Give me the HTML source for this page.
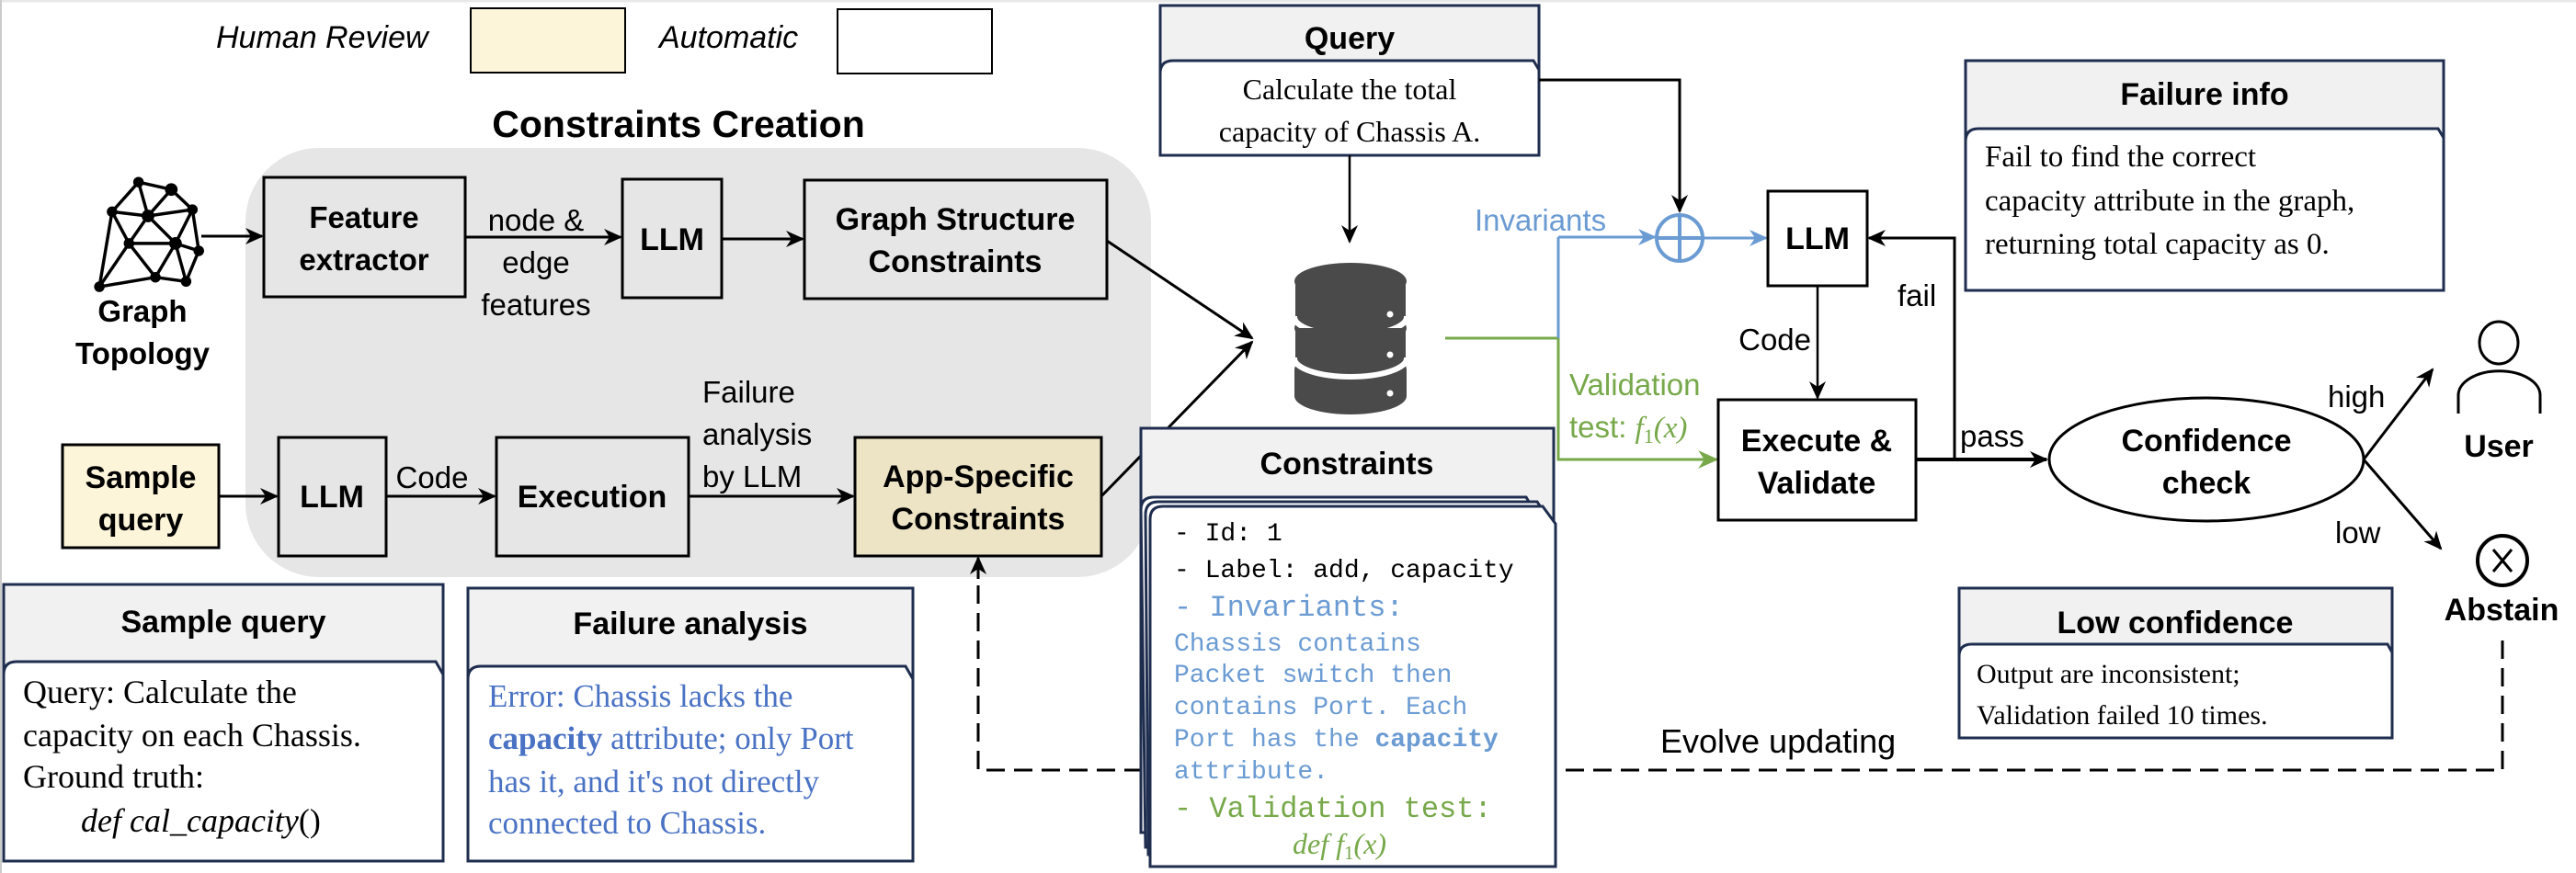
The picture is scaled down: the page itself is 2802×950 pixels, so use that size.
<!DOCTYPE html>
<html><head><meta charset="utf-8"><style>
html,body{margin:0;padding:0;background:#fff;}
svg{display:block;}
.s{font-family:"Liberation Sans",sans-serif;}
.b{font-family:"Liberation Sans",sans-serif;font-weight:bold;}
.r{font-family:"Liberation Serif",serif;}
.m{font-family:"Liberation Mono",monospace;}
</style></head><body>
<svg width="2802" height="950" viewBox="0 0 2802 950" xmlns="http://www.w3.org/2000/svg">
<defs>
<marker id="a" viewBox="0 0 20 20" refX="18" refY="10" markerWidth="20" markerHeight="20" markerUnits="userSpaceOnUse" orient="auto"><path d="M0,1 L20,10 L0,19 L6,10 Z" fill="#000"/></marker>
<marker id="ab" viewBox="0 0 20 20" refX="18" refY="10" markerWidth="20" markerHeight="20" markerUnits="userSpaceOnUse" orient="auto"><path d="M0,1 L20,10 L0,19 L6,10 Z" fill="#6b9bd3"/></marker>
<marker id="ag" viewBox="0 0 20 20" refX="18" refY="10" markerWidth="22" markerHeight="22" markerUnits="userSpaceOnUse" orient="auto"><path d="M0,1 L20,10 L0,19 L6,10 Z" fill="#77a84a"/></marker>
</defs>
<rect width="2802" height="950" fill="#fff"/>
<line x1="0" y1="1" x2="2802" y2="1" stroke="#e8e8e8" stroke-width="3"/>
<line x1="1" y1="0" x2="1" y2="950" stroke="#ccc" stroke-width="2"/>

<!-- legend -->
<text x="235" y="52" class="s" font-style="italic" font-size="34">Human Review</text>
<rect x="512" y="9" width="168" height="70" fill="#fdf5d9" stroke="#000" stroke-width="2"/>
<text x="717" y="52" class="s" font-style="italic" font-size="34">Automatic</text>
<rect x="911" y="10" width="168" height="70" fill="#fff" stroke="#000" stroke-width="2"/>

<!-- constraints creation -->
<text x="738" y="149" class="b" font-size="41" text-anchor="middle">Constraints Creation</text>
<rect x="267" y="161" width="985" height="467" rx="80" fill="#e6e6e6"/>

<!-- graph icon -->
<g transform="translate(161,258) scale(1.15) translate(-161,-258)">
<g stroke="#000" stroke-width="3" fill="none">
<path d="M152,206 L183,213 L203,232 L209,271 L197,300 L168,296 L115,305 L127,234 Z"/>
<path d="M127,234 L161,238 L183,213 M161,238 L152,206 M161,238 L203,232 M161,238 L143,264 L115,305 M127,234 L143,264 M161,238 L187,264 L209,271 M187,264 L203,232 M143,264 L187,264 M143,264 L168,296 L187,264 L197,300 M115,305 L143,264"/>
</g>
<g fill="#000"><circle cx="152" cy="206" r="5"/><circle cx="183" cy="213" r="6"/><circle cx="127" cy="234" r="5"/><circle cx="161" cy="238" r="6"/><circle cx="203" cy="232" r="5"/><circle cx="143" cy="264" r="5"/><circle cx="187" cy="264" r="6"/><circle cx="209" cy="271" r="5"/><circle cx="168" cy="296" r="5"/><circle cx="197" cy="300" r="5"/><circle cx="115" cy="305" r="5"/></g>
</g>
<text x="155" y="350" class="b" font-size="33" text-anchor="middle">Graph</text>
<text x="155" y="396" class="b" font-size="33" text-anchor="middle">Topology</text>
<line x1="219" y1="257" x2="285" y2="257" stroke="#000" stroke-width="3" marker-end="url(#a)"/>

<rect x="287" y="193" width="219" height="130" fill="#e6e6e6" stroke="#000" stroke-width="3"/>
<text x="396" y="248" class="b" font-size="33" text-anchor="middle">Feature</text>
<text x="396" y="294" class="b" font-size="33" text-anchor="middle">extractor</text>
<line x1="506" y1="258" x2="675" y2="258" stroke="#000" stroke-width="3" marker-end="url(#a)"/>
<text x="583" y="251" class="s" font-size="33" text-anchor="middle">node &amp;</text>
<text x="583" y="297" class="s" font-size="33" text-anchor="middle">edge</text>
<text x="583" y="343" class="s" font-size="33" text-anchor="middle">features</text>
<rect x="677" y="195" width="108" height="129" fill="#e6e6e6" stroke="#000" stroke-width="3"/>
<text x="731" y="272" class="b" font-size="34" text-anchor="middle">LLM</text>
<line x1="785" y1="260" x2="873" y2="260" stroke="#000" stroke-width="3" marker-end="url(#a)"/>
<rect x="875" y="196" width="329" height="129" fill="#e6e6e6" stroke="#000" stroke-width="3"/>
<text x="1039" y="250" class="b" font-size="34" text-anchor="middle">Graph Structure</text>
<text x="1039" y="296" class="b" font-size="34" text-anchor="middle">Constraints</text>

<rect x="68" y="484" width="170" height="112" fill="#fdf5d9" stroke="#000" stroke-width="3"/>
<text x="153" y="531" class="b" font-size="34" text-anchor="middle">Sample</text>
<text x="153" y="577" class="b" font-size="34" text-anchor="middle">query</text>
<line x1="238" y1="540" x2="301" y2="540" stroke="#000" stroke-width="3" marker-end="url(#a)"/>
<rect x="303" y="476" width="117" height="129" fill="#e6e6e6" stroke="#000" stroke-width="3"/>
<text x="361" y="552" class="b" font-size="34" text-anchor="middle">LLM</text>
<line x1="420" y1="540" x2="538" y2="540" stroke="#000" stroke-width="3" marker-end="url(#a)"/>
<text x="470" y="531" class="s" font-size="33" text-anchor="middle">Code</text>
<rect x="540" y="476" width="209" height="129" fill="#e6e6e6" stroke="#000" stroke-width="3"/>
<text x="644" y="552" class="b" font-size="34" text-anchor="middle">Execution</text>
<text x="764" y="438" class="s" font-size="33">Failure</text>
<text x="764" y="484" class="s" font-size="33">analysis</text>
<text x="764" y="530" class="s" font-size="33">by LLM</text>
<line x1="749" y1="540" x2="928" y2="540" stroke="#000" stroke-width="3" marker-end="url(#a)"/>
<rect x="930" y="476" width="268" height="129" fill="#ede3c5" stroke="#000" stroke-width="3"/>
<text x="1064" y="530" class="b" font-size="34" text-anchor="middle">App-Specific</text>
<text x="1064" y="576" class="b" font-size="34" text-anchor="middle">Constraints</text>

<!-- to DB -->
<line x1="1204" y1="262" x2="1362" y2="368" stroke="#000" stroke-width="3" marker-end="url(#a)"/>
<line x1="1198" y1="540" x2="1362" y2="372" stroke="#000" stroke-width="3" marker-end="url(#a)"/>

<!-- DB -->
<g>
<path d="M1408,402 L1530,402 L1530,431 A61,20 0 0,1 1408,431 Z" fill="#4a4a4a"/>
<ellipse cx="1469" cy="402" rx="61" ry="20" fill="#4a4a4a"/>
<path d="M1408,357 L1530,357 L1530,390 A61,20 0 0,1 1408,390 Z" fill="#4a4a4a" stroke="#fff" stroke-width="6"/>
<ellipse cx="1469" cy="357" rx="61" ry="20" fill="#4a4a4a"/>
<path d="M1408,306 L1530,306 L1530,345 A61,20 0 0,1 1408,345 Z" fill="#4a4a4a" stroke="#fff" stroke-width="6"/>
<ellipse cx="1469" cy="306" rx="61" ry="20" fill="#4a4a4a"/>
<rect x="1409" y="306" width="120" height="38" fill="#4a4a4a"/>
<rect x="1409" y="357" width="120" height="32" fill="#4a4a4a"/>
<circle cx="1512" cy="342" r="3.5" fill="#fff"/><circle cx="1512" cy="386" r="3.5" fill="#fff"/><circle cx="1512" cy="428" r="3.5" fill="#fff"/>
</g>

<!-- Query card -->
<rect x="1262" y="6" width="412" height="163" fill="#f1f1f1" stroke="#1f2d4f" stroke-width="3"/>
<path d="M1262,80 Q1262,66 1276,66 L1668,66 L1674,76 L1674,169 L1262,169 Z" fill="#fff" stroke="#1f2d4f" stroke-width="3"/>
<text x="1468" y="53" class="b" font-size="34" text-anchor="middle">Query</text>
<text x="1468" y="108" class="r" font-size="32" text-anchor="middle">Calculate the total</text>
<text x="1468" y="154" class="r" font-size="32" text-anchor="middle">capacity of Chassis A.</text>
<line x1="1468" y1="169" x2="1468" y2="263" stroke="#000" stroke-width="2.5" marker-end="url(#a)"/>
<polyline points="1674,87 1827,87 1827,230" fill="none" stroke="#000" stroke-width="3" marker-end="url(#a)"/>

<!-- invariants / validation lines -->
<line x1="1572" y1="368" x2="1695" y2="368" stroke="#77a84a" stroke-width="3"/>
<line x1="1695" y1="258" x2="1695" y2="368" stroke="#6b9bd3" stroke-width="3"/>
<line x1="1695" y1="258" x2="1800" y2="258" stroke="#6b9bd3" stroke-width="3" marker-end="url(#ab)"/>
<circle cx="1827" cy="259" r="25" fill="none" stroke="#6b9bd3" stroke-width="4"/>
<line x1="1802" y1="259" x2="1852" y2="259" stroke="#6b9bd3" stroke-width="4"/>
<line x1="1827" y1="234" x2="1827" y2="284" stroke="#6b9bd3" stroke-width="4"/>
<line x1="1852" y1="259" x2="1921" y2="259" stroke="#6b9bd3" stroke-width="3" marker-end="url(#ab)"/>
<text x="1604" y="251" class="s" font-size="33" fill="#6b9bd3">Invariants</text>
<polyline points="1695,368 1695,500 1867,500" fill="none" stroke="#77a84a" stroke-width="3" marker-end="url(#ag)"/>
<text x="1707" y="430" class="s" font-size="33" fill="#77a84a">Validation</text>
<text x="1707" y="476" class="s" font-size="33" fill="#77a84a">test: <tspan class="r" font-style="italic">f</tspan><tspan class="r" font-size="22" dy="6">1</tspan><tspan class="r" font-style="italic" dy="-6">(x)</tspan></text>

<!-- LLM 3 -->
<rect x="1923" y="208" width="108" height="103" fill="#fff" stroke="#000" stroke-width="3"/>
<text x="1977" y="271" class="b" font-size="34" text-anchor="middle">LLM</text>
<line x1="1977" y1="311" x2="1977" y2="433" stroke="#000" stroke-width="2.5" marker-end="url(#a)"/>
<text x="1970" y="381" class="s" font-size="33" text-anchor="end">Code</text>
<rect x="1869" y="435" width="215" height="131" fill="#fff" stroke="#000" stroke-width="3"/>
<text x="1976" y="491" class="b" font-size="34" text-anchor="middle">Execute &amp;</text>
<text x="1976" y="537" class="b" font-size="34" text-anchor="middle">Validate</text>
<polyline points="2084,500 2126,500 2126,259 2033,259" fill="none" stroke="#000" stroke-width="3" marker-end="url(#a)"/>
<text x="2064" y="333" class="s" font-size="33">fail</text>
<line x1="2084" y1="500" x2="2226" y2="500" stroke="#000" stroke-width="4" marker-end="url(#a)"/>
<text x="2132" y="486" class="s" font-size="33">pass</text>
<ellipse cx="2400" cy="500" rx="171" ry="67" fill="#fff" stroke="#000" stroke-width="3"/>
<text x="2400" y="491" class="b" font-size="34" text-anchor="middle">Confidence</text>
<text x="2400" y="537" class="b" font-size="34" text-anchor="middle">check</text>
<line x1="2571" y1="500" x2="2646" y2="402" stroke="#000" stroke-width="3" marker-end="url(#a)"/>
<line x1="2571" y1="500" x2="2655" y2="597" stroke="#000" stroke-width="3" marker-end="url(#a)"/>
<text x="2532" y="443" class="s" font-size="33">high</text>
<text x="2540" y="591" class="s" font-size="33">low</text>
<ellipse cx="2718" cy="373" rx="21" ry="23" fill="none" stroke="#000" stroke-width="3"/>
<path d="M2674,450 L2674,430 A44,26 0 0,1 2763,430 L2763,450" fill="none" stroke="#000" stroke-width="3"/>
<text x="2718" y="497" class="b" font-size="34" text-anchor="middle">User</text>
<circle cx="2722" cy="610" r="27" fill="none" stroke="#000" stroke-width="4"/>
<line x1="2712" y1="598" x2="2732" y2="622" stroke="#000" stroke-width="3"/>
<line x1="2732" y1="598" x2="2712" y2="622" stroke="#000" stroke-width="3"/>
<text x="2721" y="675" class="b" font-size="34" text-anchor="middle">Abstain</text>

<!-- Failure info -->
<rect x="2138" y="66" width="520" height="250" fill="#f1f1f1" stroke="#1f2d4f" stroke-width="3"/>
<path d="M2138,154 Q2138,140 2152,140 L2652,140 L2658,150 L2658,316 L2138,316 Z" fill="#fff" stroke="#1f2d4f" stroke-width="3"/>
<text x="2398" y="114" class="b" font-size="34" text-anchor="middle">Failure info</text>
<text x="2159" y="181" class="r" font-size="33">Fail to find the correct</text>
<text x="2159" y="229" class="r" font-size="33">capacity attribute in the graph,</text>
<text x="2159" y="276" class="r" font-size="33">returning total capacity as 0.</text>

<!-- dashed evolve -->
<polyline points="2722,697 2722,838 1064,838 1064,610" fill="none" stroke="#000" stroke-width="3" stroke-dasharray="20,10"/>
<line x1="1064" y1="630" x2="1064" y2="607" stroke="#000" stroke-width="3" marker-end="url(#a)"/>
<text x="1806" y="819" class="s" font-size="36">Evolve updating</text>

<!-- Low confidence -->
<rect x="2131" y="640" width="471" height="163" fill="#f1f1f1" stroke="#1f2d4f" stroke-width="3"/>
<path d="M2131,714 Q2131,701 2145,701 L2597,701 L2602,710 L2602,803 L2131,803 Z" fill="#fff" stroke="#1f2d4f" stroke-width="3"/>
<text x="2366" y="689" class="b" font-size="34" text-anchor="middle">Low confidence</text>
<text x="2150" y="743" class="r" font-size="30">Output are inconsistent;</text>
<text x="2150" y="788" class="r" font-size="30">Validation failed 10 times.</text>

<!-- Constraints stack -->
<rect x="1241" y="466" width="449" height="440" fill="#f1f1f1" stroke="#1f2d4f" stroke-width="3"/>
<text x="1465" y="516" class="b" font-size="34" text-anchor="middle">Constraints</text>
<path d="M1241,555 Q1241,541 1255,541 L1660,541 L1666,551 L1666,922 L1246,922 Z" fill="#fff" stroke="#1f2d4f" stroke-width="3"/>
<path d="M1246,560 Q1246,546 1260,546 L1672,546 L1680,558 L1680,930 L1249,930 Z" fill="#fff" stroke="#1f2d4f" stroke-width="3"/>
<path d="M1251,565 Q1251,551 1265,551 L1678,551 L1692,570 L1692,943 L1251,943 Z" fill="#fff" stroke="#1f2d4f" stroke-width="3"/>
<g class="m" font-size="28">
<text x="1277" y="588">- Id: 1</text>
<text x="1277" y="628">- Label: add, capacity</text>
<text x="1277" y="670" font-size="32" fill="#6b9bd3">- Invariants:</text>
<text x="1277" y="708" fill="#6b9bd3">Chassis contains</text>
<text x="1277" y="742" fill="#6b9bd3">Packet switch then</text>
<text x="1277" y="777" fill="#6b9bd3">contains Port. Each</text>
<text x="1277" y="812" fill="#6b9bd3">Port has the <tspan font-weight="bold">capacity</tspan></text>
<text x="1277" y="847" fill="#6b9bd3">attribute.</text>
<text x="1277" y="889" font-size="32" fill="#77a84a">- Validation test:</text>
</g>
<text x="1457" y="929" class="r" font-size="32" font-style="italic" fill="#77a84a" text-anchor="middle">def f<tspan font-style="normal" font-size="21" dy="6">1</tspan><tspan dy="-6">(x)</tspan></text>

<!-- Sample query card -->
<rect x="4" y="636" width="478" height="301" fill="#f1f1f1" stroke="#1f2d4f" stroke-width="3"/>
<path d="M4,734 Q4,720 18,720 L474,720 L482,734 L482,937 L4,937 Z" fill="#fff" stroke="#1f2d4f" stroke-width="3"/>
<text x="243" y="688" class="b" font-size="34" text-anchor="middle">Sample query</text>
<text x="25" y="765" class="r" font-size="36">Query: Calculate the</text>
<text x="25" y="812" class="r" font-size="36">capacity on each Chassis.</text>
<text x="25" y="857" class="r" font-size="36">Ground truth:</text>
<text x="88" y="905" class="r" font-size="36"><tspan font-style="italic">def cal_capacity</tspan>()</text>

<!-- Failure analysis card -->
<rect x="509" y="640" width="484" height="297" fill="#f1f1f1" stroke="#1f2d4f" stroke-width="3"/>
<path d="M509,739 Q509,725 523,725 L985,725 L993,739 L993,937 L509,937 Z" fill="#fff" stroke="#1f2d4f" stroke-width="3"/>
<text x="751" y="690" class="b" font-size="34" text-anchor="middle">Failure analysis</text>
<g class="r" font-size="35" fill="#4a72c4">
<text x="531" y="769">Error: Chassis lacks the</text>
<text x="531" y="815"><tspan font-weight="bold">capacity</tspan> attribute; only Port</text>
<text x="531" y="862">has it, and it's not directly</text>
<text x="531" y="907">connected to Chassis.</text>
</g>
</svg>
</body></html>
